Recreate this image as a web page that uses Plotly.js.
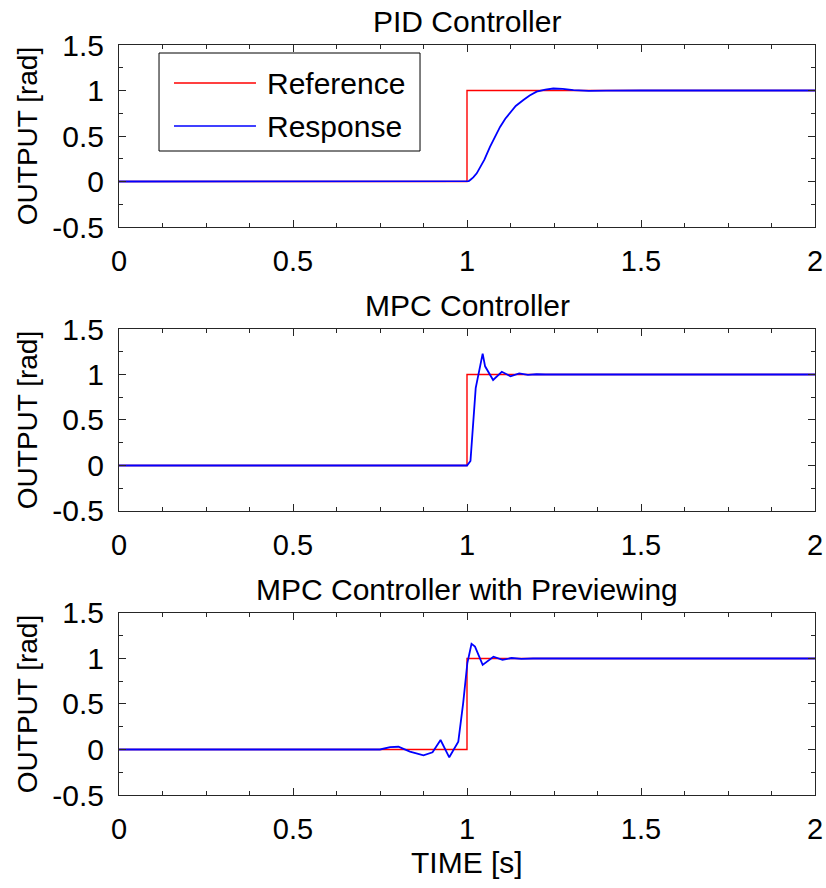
<!DOCTYPE html>
<html>
<head>
<meta charset="utf-8">
<script src="https://cdn.plot.ly/plotly-3.0.1.min.js"></script>
<style>html,body{margin:0;padding:0;background:#fff;}#chart{width:826px;height:888px;}</style>
</head>
<body>
<div id="chart"></div>
<script>
// Reference step (same for all three panels)
const refT = [0, 1, 1, 2];
const refY = [0, 0, 1, 1];

// PID controller response
const pidT = [0, 1.0, 1.005, 1.01, 1.018, 1.028, 1.04, 1.05, 1.066, 1.08, 1.095, 1.11, 1.124, 1.14, 1.162, 1.18, 1.2, 1.225, 1.248, 1.275, 1.306, 1.35, 1.4, 1.5, 2];
const pidY = [0, 0, 0.005, 0.02, 0.045, 0.09, 0.17, 0.24, 0.38, 0.49, 0.60, 0.69, 0.76, 0.83, 0.895, 0.945, 0.987, 1.01, 1.022, 1.018, 1.005, 0.995, 0.998, 1.0, 1.0];

// MPC controller response
const mpcT = [0, 1.0, 1.01, 1.025, 1.045, 1.052, 1.075, 1.1, 1.125, 1.15, 1.175, 1.2, 1.225, 2];
const mpcY = [0, 0, 0.05, 0.85, 1.23, 1.09, 0.94, 1.03, 0.98, 1.013, 0.995, 1.003, 1.0, 1.0];

// MPC controller with previewing response
const prvT = [0, 0.75, 0.779, 0.803, 0.836, 0.875, 0.901, 0.924, 0.949, 0.975, 0.989, 1.001, 1.013, 1.023, 1.045, 1.076, 1.102, 1.128, 1.156, 1.19, 2];
const prvY = [0, 0, 0.027, 0.03, -0.024, -0.064, -0.031, 0.104, -0.086, 0.086, 0.51, 0.95, 1.16, 1.13, 0.93, 1.02, 0.985, 1.005, 0.995, 1.0, 1.0];

const titles = ["PID Controller", "MPC Controller", "MPC Controller with Previewing"];
const xTicks = [0, 0.5, 1, 1.5, 2];
const yTicks = [-0.5, 0, 0.5, 1, 1.5];

const FONT = "Liberation Sans, Arial, Helvetica, sans-serif";
const AX = "#262626";
const RED = "#ff0000";
const BLUE = "#0000ff";

const responses = [[pidT, pidY], [mpcT, mpcY], [prvT, prvY]];
const traces = [];
responses.forEach((r, i) => {
  const sx = i === 0 ? "x" : "x" + (i + 1);
  const sy = i === 0 ? "y" : "y" + (i + 1);
  traces.push({x: refT, y: refY, xaxis: sx, yaxis: sy, type: "scatter", mode: "lines",
    name: "Reference", line: {color: RED, width: 1.4}, showlegend: false});
  traces.push({x: r[0], y: r[1], xaxis: sx, yaxis: sy, type: "scatter", mode: "lines",
    name: "Response", line: {color: BLUE, width: 1.8}, showlegend: false});
});

const domains = [[0.7573, 1], [0.3787, 0.6213], [0, 0.2427]];

function xAxis(i) {
  return {
    domain: [0, 1], range: [0, 2], anchor: i === 0 ? "y" : "y" + (i + 1),
    tickvals: xTicks, ticktext: xTicks.map(String),
    ticks: "inside", ticklen: 7, tickwidth: 1, tickcolor: AX,
    minor: {dtick: 0.125, tick0: 0, ticks: "inside", ticklen: 4, tickwidth: 1, tickcolor: AX, showgrid: false},
    showline: true, linecolor: AX, linewidth: 1, mirror: "allticks",
    showgrid: false, zeroline: false,
    tickfont: {family: FONT, size: 29, color: "#000"},
    ticklabelstandoff: 8,
    title: {text: ""}
  };
}
function yAxis(i) {
  return {
    domain: domains[i], range: [-0.5, 1.5], anchor: i === 0 ? "x" : "x" + (i + 1),
    tickvals: yTicks, ticktext: yTicks.map(String),
    ticks: "inside", ticklen: 7, tickwidth: 1, tickcolor: AX,
    minor: {dtick: 0.25, tick0: 0, ticks: "inside", ticklen: 4, tickwidth: 1, tickcolor: AX, showgrid: false},
    showline: true, linecolor: AX, linewidth: 1, mirror: "allticks",
    showgrid: false, zeroline: false,
    tickfont: {family: FONT, size: 30, color: "#000"},
    ticklabelstandoff: 8,
    title: {text: "OUTPUT [rad]", font: {family: FONT, size: 28, color: "#000"}, standoff: 6}
  };
}

const layout = {
  width: 826, height: 888,
  margin: {l: 119, r: 11, t: 45, b: 93, pad: 0},
  paper_bgcolor: "#fff", plot_bgcolor: "#fff",
  font: {family: FONT, color: "#000"},
  showlegend: false,
  annotations: [], shapes: []
};
for (let i = 0; i < 3; i++) {
  layout[i === 0 ? "xaxis" : "xaxis" + (i + 1)] = xAxis(i);
  layout[i === 0 ? "yaxis" : "yaxis" + (i + 1)] = yAxis(i);
  layout.annotations.push({
    text: titles[i], xref: "paper", yref: "paper", x: 0.5, y: domains[i][1],
    xanchor: "center", yanchor: "bottom", yshift: 5, showarrow: false,
    font: {family: FONT, size: 30, color: "#000"}
  });
}
// x-axis title of the bottom panel
layout.annotations.push({
  text: "TIME [s]", xref: "paper", yref: "paper", x: 0.5, y: 0,
  xanchor: "center", yanchor: "middle", yshift: -67, showarrow: false,
  font: {family: FONT, size: 30, color: "#000"}
});

// Legend box (drawn in the first panel's axis-domain coordinates)
layout.shapes.push({type: "rect", xref: "x domain", yref: "y domain",
  x0: 0.0575, x1: 0.4325, y0: 0.4176, y1: 0.956,
  line: {color: "#000", width: 1}, fillcolor: "#fff", layer: "above"});
const legendItems = [["Reference", RED, 0.791], ["Response", BLUE, 0.555]];
legendItems.forEach(it => {
  layout.shapes.push({type: "line", xref: "x domain", yref: "y domain",
    x0: 0.079, x1: 0.1968, y0: it[2], y1: it[2], line: {color: it[1], width: 1.4}, layer: "above"});
  layout.annotations.push({text: it[0], xref: "x domain", yref: "y domain",
    x: 0.2098, y: it[2], xanchor: "left", yanchor: "middle", showarrow: false,
    font: {family: FONT, size: 30, color: "#000"}});
});

Plotly.newPlot("chart", traces, layout, {displayModeBar: false, staticPlot: true});
</script>
</body>
</html>
